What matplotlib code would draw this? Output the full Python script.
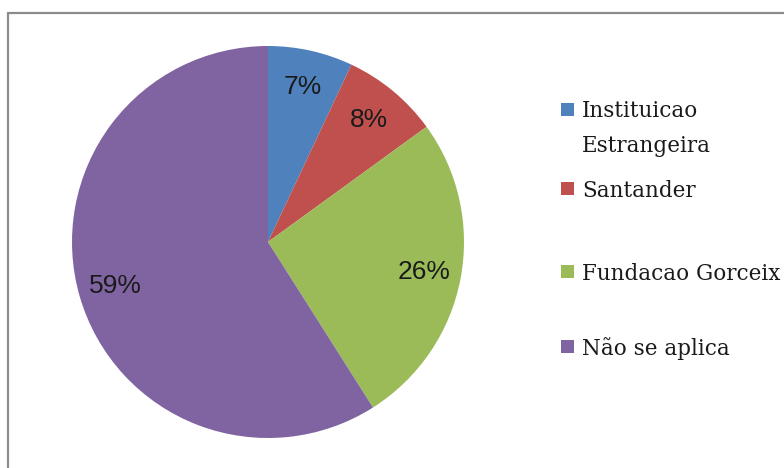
import matplotlib
matplotlib.use("Agg")
import matplotlib.pyplot as plt
from matplotlib.patches import Rectangle

labels = ["Instituicao\nEstrangeira", "Santander", "Fundacao Gorceix", "Não se aplica"]
shares = [7, 8, 26, 59]
colors = ["#4F81BD", "#C0504D", "#9BBB59", "#8064A2"]

fig = plt.figure(figsize=(7.84, 4.68), dpi=100)

# outer chart frame (right and bottom edges fall outside the crop)
fig.patches.append(Rectangle((8 / 784, -0.1), 1.2, 0.1 + 1 - 13 / 468,
                             transform=fig.transFigure, fill=False,
                             edgecolor="#8c8c8c", linewidth=1.6))

ax = fig.add_axes([72 / 784, 30 / 468, 392 / 784, 392 / 468])
wedges, texts, pcts = ax.pie(shares, colors=colors, startangle=90, counterclock=False,
                             autopct="%1.0f%%", pctdistance=0.81,
                             wedgeprops=dict(linewidth=0),
                             textprops=dict(fontsize=19, color="#1a1a1a",
                                            family="Liberation Sans"))
ax.set_xlim(-1, 1)
ax.set_ylim(-1, 1)
ax.set_aspect("equal")

# legend drawn by hand: square + label per row (pixel rows from top)
rows_y = [109, 188, 271, 346]
line_px = 34
for lab, col, y in zip(labels, colors, rows_y):
    yf = 1 - y / 468
    fig.patches.append(Rectangle((561 / 784, yf - 6.5 / 468), 13 / 784, 13 / 468,
                                 transform=fig.transFigure, facecolor=col,
                                 edgecolor="none"))
    # baseline of the last line; square sits beside the first line
    base = y + 9 + line_px * lab.count("\n")
    fig.text(582 / 784, 1 - base / 468, lab, ha="left", va="baseline",
             family="DejaVu Serif", fontsize=15.5, color="#1a1a1a",
             linespacing=1.75)

fig.savefig("out.png", dpi=100)
